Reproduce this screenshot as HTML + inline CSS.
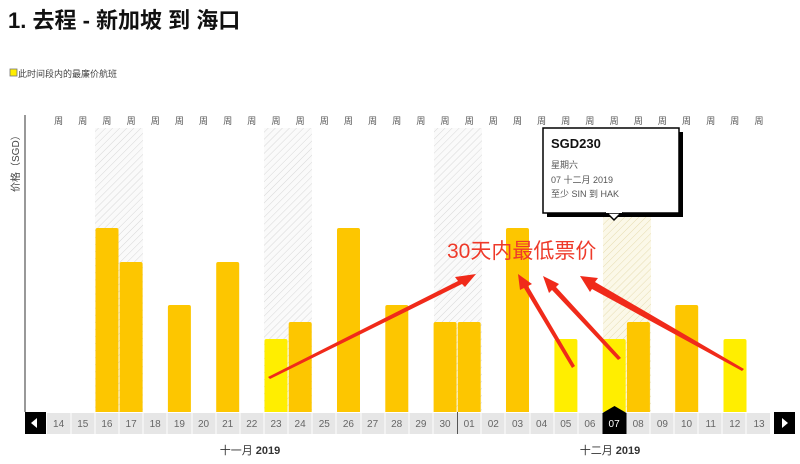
<!DOCTYPE html>
<html><head><meta charset="utf-8"><style>
body{margin:0;background:#fff;width:800px;height:464px;overflow:hidden}
svg{display:block}
text{font-family:"Liberation Sans","Noto Sans CJK SC",sans-serif}
</style></head><body>
<svg width="800" height="464" viewBox="0 0 800 464" xmlns="http://www.w3.org/2000/svg">
<defs>
<pattern id="h" width="5" height="5" patternUnits="userSpaceOnUse" patternTransform="rotate(45)">
<rect width="5" height="5" fill="#fafafa"/><line x1="0" y1="0" x2="0" y2="5" stroke="#d8d8d8" stroke-width="1"/>
</pattern>
<pattern id="hy" width="5" height="5" patternUnits="userSpaceOnUse" patternTransform="rotate(45)">
<rect width="5" height="5" fill="#fbf8e8"/><line x1="0" y1="0" x2="0" y2="5" stroke="#e6dcb0" stroke-width="1"/>
</pattern>
</defs>
<text x="8" y="28" font-size="22" font-weight="bold" fill="#111">1. 去程 - 新加坡 到 海口</text>
<rect x="10" y="69" width="7" height="7" fill="#ffee00" stroke="#777" stroke-width="0.8"/>
<text x="18" y="77" font-size="9" fill="#444">此时间段内的最廉价航班</text>
<line x1="25" y1="115" x2="25" y2="412" stroke="#555" stroke-width="1.2"/>
<text transform="translate(19,192) rotate(-90)" font-size="10" fill="#444">价格（SGD）</text>
<g id="hatch">
<rect x="95" y="128" width="48" height="284" fill="url(#h)"/>
<rect x="264" y="128" width="48" height="284" fill="url(#h)"/>
<rect x="434" y="128" width="48" height="284" fill="url(#h)"/>
<rect x="603" y="128" width="48" height="284" fill="url(#hy)"/>
</g>
<g font-size="9" fill="#555" text-anchor="middle">
<text x="58.6" y="124">周</text><text x="82.8" y="124">周</text><text x="106.9" y="124">周</text><text x="131.1" y="124">周</text><text x="155.2" y="124">周</text><text x="179.4" y="124">周</text><text x="203.5" y="124">周</text><text x="227.7" y="124">周</text><text x="251.8" y="124">周</text><text x="276" y="124">周</text><text x="300.1" y="124">周</text><text x="324.3" y="124">周</text><text x="348.4" y="124">周</text><text x="372.6" y="124">周</text><text x="396.7" y="124">周</text><text x="420.9" y="124">周</text><text x="445" y="124">周</text><text x="469.2" y="124">周</text><text x="493.3" y="124">周</text><text x="517.5" y="124">周</text><text x="541.6" y="124">周</text><text x="565.8" y="124">周</text><text x="589.9" y="124">周</text><text x="614.1" y="124">周</text><text x="638.2" y="124">周</text><text x="662.4" y="124">周</text><text x="686.5" y="124">周</text><text x="710.7" y="124">周</text><text x="734.8" y="124">周</text><text x="759" y="124">周</text>
</g>
<g fill="#fdc600">
<rect x="95.5" y="228" width="23" height="190" rx="2"/>
<rect x="119.6" y="262" width="23" height="156" rx="2"/>
<rect x="167.9" y="305" width="23" height="113" rx="2"/>
<rect x="216.2" y="262" width="23" height="156" rx="2"/>
<rect x="288.7" y="322" width="23" height="96" rx="2"/>
<rect x="337" y="228" width="23" height="190" rx="2"/>
<rect x="385.3" y="305" width="23" height="113" rx="2"/>
<rect x="433.6" y="322" width="23" height="96" rx="2"/>
<rect x="457.7" y="322" width="23" height="96" rx="2"/>
<rect x="506" y="228" width="23" height="190" rx="2"/>
<rect x="626.9" y="322" width="23" height="96" rx="2"/>
<rect x="675.2" y="305" width="23" height="113" rx="2"/>
</g>
<g fill="#ffee00">
<rect x="264.5" y="339" width="23" height="79" rx="2"/>
<rect x="554.4" y="339" width="23" height="79" rx="2"/>
<rect x="602.7" y="339" width="23" height="79" rx="2"/>
<rect x="723.5" y="339" width="23" height="79" rx="2"/>
</g>
<rect x="25" y="412" width="775" height="22" fill="#fff"/>
<g fill="#e6e6e6">
<rect x="47" y="413" width="723" height="21"/>
</g>
<g stroke="#fff" stroke-width="1">
<line x1="71" y1="413" x2="71" y2="434"/><line x1="95" y1="413" x2="95" y2="434"/><line x1="119" y1="413" x2="119" y2="434"/><line x1="143" y1="413" x2="143" y2="434"/><line x1="167" y1="413" x2="167" y2="434"/><line x1="192" y1="413" x2="192" y2="434"/><line x1="216" y1="413" x2="216" y2="434"/><line x1="240" y1="413" x2="240" y2="434"/><line x1="264" y1="413" x2="264" y2="434"/><line x1="288" y1="413" x2="288" y2="434"/><line x1="312" y1="413" x2="312" y2="434"/><line x1="336" y1="413" x2="336" y2="434"/><line x1="361" y1="413" x2="361" y2="434"/><line x1="385" y1="413" x2="385" y2="434"/><line x1="409" y1="413" x2="409" y2="434"/><line x1="433" y1="413" x2="433" y2="434"/><line x1="481" y1="413" x2="481" y2="434"/><line x1="505" y1="413" x2="505" y2="434"/><line x1="530" y1="413" x2="530" y2="434"/><line x1="554" y1="413" x2="554" y2="434"/><line x1="578" y1="413" x2="578" y2="434"/><line x1="650" y1="413" x2="650" y2="434"/><line x1="674" y1="413" x2="674" y2="434"/><line x1="698" y1="413" x2="698" y2="434"/><line x1="722" y1="413" x2="722" y2="434"/><line x1="746" y1="413" x2="746" y2="434"/>
</g>
<line x1="457.5" y1="412" x2="457.5" y2="434" stroke="#555" stroke-width="1"/>
<rect x="602.5" y="413" width="24" height="21" fill="#000"/>
<polygon points="602.5,413 614.5,406 626.5,413" fill="#000"/>
<rect x="25" y="412" width="21" height="22" fill="#000"/>
<polygon points="31,423 37,418 37,428" fill="#fff"/>
<rect x="774" y="412" width="21" height="22" fill="#000"/>
<polygon points="788,423 782,418 782,428" fill="#fff"/>
<g font-size="10" fill="#666" text-anchor="middle">
<text x="58.6" y="427">14</text><text x="82.8" y="427">15</text><text x="106.9" y="427">16</text><text x="131.1" y="427">17</text><text x="155.2" y="427">18</text><text x="179.4" y="427">19</text><text x="203.5" y="427">20</text><text x="227.7" y="427">21</text><text x="251.8" y="427">22</text><text x="276" y="427">23</text><text x="300.1" y="427">24</text><text x="324.3" y="427">25</text><text x="348.4" y="427">26</text><text x="372.6" y="427">27</text><text x="396.7" y="427">28</text><text x="420.9" y="427">29</text><text x="445" y="427">30</text><text x="469.2" y="427">01</text><text x="493.3" y="427">02</text><text x="517.5" y="427">03</text><text x="541.6" y="427">04</text><text x="565.8" y="427">05</text><text x="589.9" y="427">06</text><text x="614.1" y="427" fill="#fff">07</text><text x="638.2" y="427">08</text><text x="662.4" y="427">09</text><text x="686.5" y="427">10</text><text x="710.7" y="427">11</text><text x="734.8" y="427">12</text><text x="759" y="427">13</text>
</g>
<text x="250" y="454" font-size="11" fill="#333" text-anchor="middle">十一月 <tspan font-weight="bold">2019</tspan></text>
<text x="610" y="454" font-size="11" fill="#333" text-anchor="middle">十二月 <tspan font-weight="bold">2019</tspan></text>
<!-- tooltip -->
<rect x="547" y="132" width="136" height="85" fill="#000"/>
<rect x="543" y="128" width="136" height="85" fill="#fff" stroke="#000" stroke-width="1.5"/>
<polygon points="607,213 614,220 621,213" fill="#fff" stroke="#000" stroke-width="1.5"/>
<rect x="606" y="211" width="16" height="2" fill="#fff"/>
<text x="551" y="148" font-size="13" font-weight="bold" fill="#111">SGD230</text>
<text x="551" y="168" font-size="9" fill="#555">星期六</text>
<text x="551" y="183" font-size="9" fill="#555">07 十二月 2019</text>
<text x="551" y="197" font-size="9" fill="#555">至少 SIN 到 HAK</text>
<!-- annotation -->
<text x="447" y="258" font-size="21" fill="#ee3a2a">30天内最低票价</text>
<g fill="#f02a1a">
<polygon points="268,377 458,281 455,277 476,274 465,287 462,284 270,379"/>
<polygon points="572,368 524,288 520,290 518,274 532,284 528,286 575,366"/>
<polygon points="618,360 552,290 549,293 543,276 559,284 556,287 621,358"/>
<polygon points="742,371 592,289 590,292 580,276 598,278 595,282 744,369"/>
</g>
</svg>
</body></html>
